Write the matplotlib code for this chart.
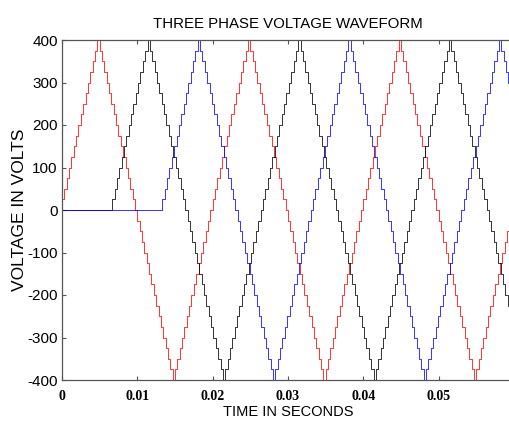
import matplotlib
matplotlib.use('Agg')
import matplotlib.pyplot as plt
import numpy as np

# one 50 Hz cycle of the staircase levels (volts), 64 samples
CYCLE_LEVELS = [
  0, 25, 50, 75, 100, 125, 150, 175, 200, 225, 250, 275, 300, 325, 350, 375,
  400, 375, 350, 325, 300, 275, 250, 225, 200, 175, 150, 125, 100, 75, 50, 25,
  0, -25, -50, -75, -100, -125, -150, -175, -200, -225, -250, -275, -300, -325, -350, -375,
  -400, -375, -350, -325, -300, -275, -250, -225, -200, -175, -150, -125, -100, -75, -50, -25,
]
PERIOD = 0.02
N_CYCLES = 3
PHASE_NAMES = ['a', 'b', 'c']
PHASE_DELAYS = [0.0, 0.00667, 0.01333]
PHASE_COLORS = ['red', 'black', 'blue']

XTICKS = [0, 0.01, 0.02, 0.03, 0.04, 0.05]
XTICK_LABELS = ['0', '0.01', '0.02', '0.03', '0.04', '0.05']
YTICKS = [-400, -300, -200, -100, 0, 100, 200, 300, 400]


def phase_wave(delay):
  levels = np.array(CYCLE_LEVELS * N_CYCLES + [0], dtype=float)
  step = PERIOD / len(CYCLE_LEVELS)
  t = delay + step * np.arange(levels.size)
  if delay > 0:
    t = np.concatenate([[0.0], t])
    levels = np.concatenate([[0.0], levels])
  return t, levels


def graph(filename):
  fig = plt.figure(figsize=(5.10, 4.24), dpi=100)
  ax = fig.add_axes([62 / 510, 44 / 424, 452 / 510, 340 / 424])

  for name, delay, color in zip(PHASE_NAMES, PHASE_DELAYS, PHASE_COLORS):
    t, v = phase_wave(delay)
    ax.plot(t, v, drawstyle='steps-pre', color=color, linewidth=0.7, alpha=0.8, label=name)

  ax.set_xlim(0, 0.06)
  ax.set_ylim(-400, 400)
  ax.set_xticks(XTICKS)
  ax.set_xticklabels(XTICK_LABELS, family='Liberation Serif', fontweight='bold', fontsize=10)
  ax.set_yticks(YTICKS)
  ax.set_yticklabels([str(y) for y in YTICKS], family='Liberation Sans', fontsize=11)
  ax.tick_params(direction='in', top=True, right=True, length=3, color='#555555')
  ax.tick_params(axis='x', pad=7)
  ax.tick_params(axis='y', pad=3)
  for spine in ax.spines.values():
    spine.set_color('#555555')
    spine.set_linewidth(0.9)

  ax.set_title('THREE PHASE VOLTAGE WAVEFORM', family='Liberation Sans', fontsize=10.8, pad=9)
  ax.set_xlabel('TIME IN SECONDS', family='Liberation Sans', fontsize=10.5, labelpad=2)
  ax.set_ylabel('VOLTAGE IN VOLTS', family='Liberation Sans', fontsize=12.5)
  ax.yaxis.set_label_coords(-0.078, 0.5)

  fig.savefig(filename, dpi=100)
  plt.close(fig)
  return filename


if __name__ == '__main__':
  graph('out.png')
